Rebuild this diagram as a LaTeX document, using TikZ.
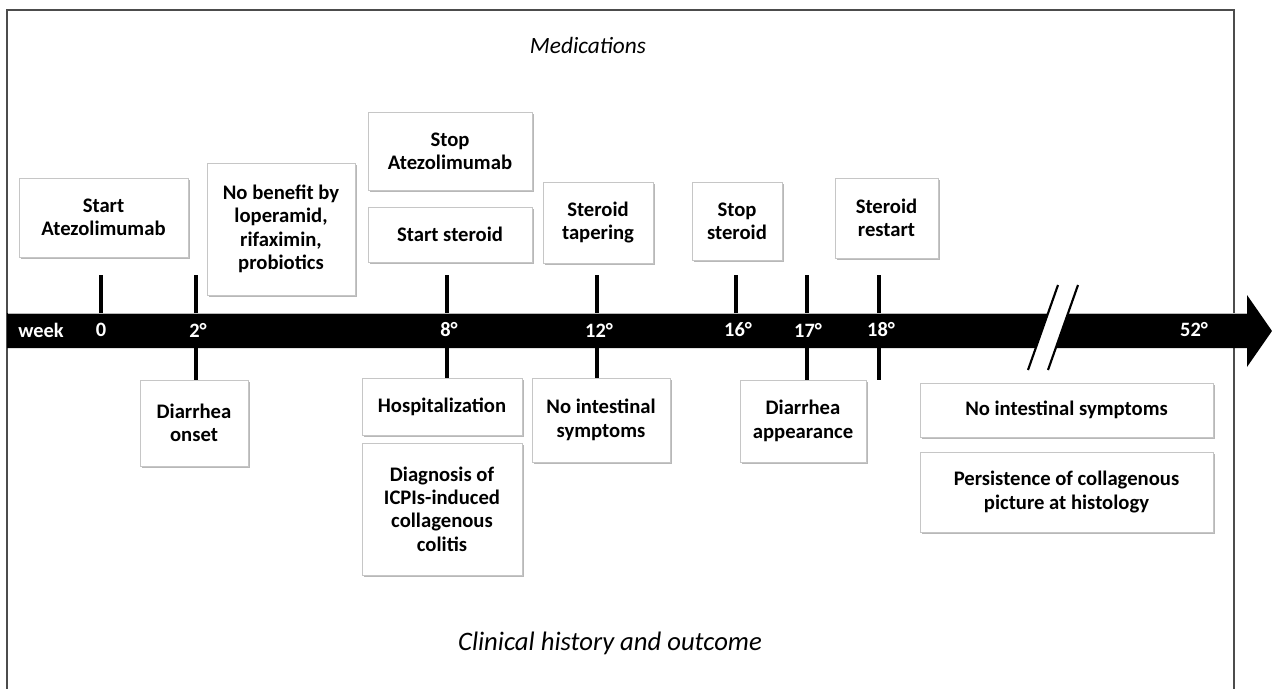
\documentclass[tikz,border=0pt]{standalone}
\usepackage{fontspec}
\setmainfont{Carlito}
\usetikzlibrary{shadows}
\tikzset{
  evbox/.style={draw=gray!45, line width=0.6pt, fill=white, align=center, inner sep=0pt,
    font=\fontsize{15.5}{17.5}\selectfont\bfseries,
    drop shadow={shadow xshift=1.5pt, shadow yshift=-1.8pt, fill=gray!70, opacity=0.8}},
  tick/.style={line width=3.6pt, black},
  barlbl/.style={text=white, font=\fontsize{15.3}{17}\selectfont\bfseries, inner sep=0pt},
  title/.style={font=\fontsize{17.5}{21}\selectfont\itshape},
  frame/.style={draw=black!70, line width=1.3pt},
  slash/.style={line width=1.6pt, black}
}
\newcommand{\tlbox}[6]{\node[evbox, minimum width={0.75pt*(#4-#2)}, minimum height={0.75pt*(#5-#3)}] (#1) at ({(#2+#4)/2},{(#3+#5)/2}) {#6};}
\begin{document}
\begin{tikzpicture}[x=0.75pt,y=-0.75pt]
\useasboundingbox (0,0) rectangle (1272,689);
% frame
\draw[frame] (7,689) -- (7,10) -- (1234,10) -- (1234,689);
% titles
\node[title] (med) at (588,45) {Medications};
\node[title, font=\fontsize{20}{24}\selectfont\itshape] (clin) at (610,643) {Clinical history and outcome};
% timeline bar
\fill[black] (7,313) -- (1247,313) -- (1247,295) -- (1272,331) -- (1247,367) -- (1247,348) -- (7,348) -- cycle;
\draw[gray!55, line width=0.8pt] (8,313.5) -- (1247,313.5);
% axis break
\fill[white] (1058,285) -- (1078,285) -- (1048,370) -- (1028,370) -- cycle;
\draw[slash] (1058,285) -- (1028,370);
\draw[slash] (1078,285) -- (1048,370);
% bar labels
\node[barlbl] (wk) at (41,330) {week};
\node[barlbl] (w0) at (101,330) {0};
\node[barlbl] (w2) at (198,330) {2°};
\node[barlbl] (w8) at (449,330) {8°};
\node[barlbl] (w12) at (599,330) {12°};
\node[barlbl] (w16) at (738,330) {16°};
\node[barlbl] (w17) at (808,330) {17°};
\node[barlbl] (w18) at (881,330) {18°};
\node[barlbl] (w52) at (1194,330) {52°};
% boxes above
\tlbox{sa}{19}{178}{188}{257}{Start\\Atezolimumab}
\tlbox{nb}{207}{163}{355}{295}{No benefit by\\loperamid,\\rifaximin,\\probiotics}
\tlbox{stopa}{368}{112}{532}{190}{Stop\\Atezolimumab}
\tlbox{ss}{368}{207}{532}{262}{Start steroid}
\tlbox{st}{543}{182}{653}{263}{Steroid\\tapering}
\tlbox{sst}{692}{182}{782}{260}{Stop\\steroid}
\tlbox{sr}{835}{178}{938}{258}{Steroid\\restart}
% boxes below
\tlbox{don}{140}{380}{248}{466}{Diarrhea\\onset}
\tlbox{hosp}{362}{378}{522}{435}{Hospitalization}
\tlbox{diag}{362}{443}{522}{575}{Diagnosis of\\ICPIs-induced\\collagenous\\colitis}
\tlbox{nis}{532}{378}{670}{462}{No intestinal\\symptoms}
\tlbox{dap}{740}{380}{866}{462}{Diarrhea\\appearance}
\tlbox{nisb}{920}{383}{1213}{437}{No intestinal symptoms}
\tlbox{pers}{920}{452}{1213}{532}{Persistence of collagenous\\picture at histology}
% ticks
\coordinate (t0a) at (101,275); \coordinate (t0b) at (101,313);
\coordinate (t2a) at (196,275); \coordinate (t2b) at (196,313);
\coordinate (t8a) at (447,275); \coordinate (t8b) at (447,313);
\coordinate (t12a) at (597,275); \coordinate (t12b) at (597,313);
\coordinate (t16a) at (736,275); \coordinate (t16b) at (736,313);
\coordinate (t17a) at (807,275); \coordinate (t17b) at (807,313);
\coordinate (t18a) at (879,275); \coordinate (t18b) at (879,313);
\draw[tick] (t0a) -- (t0b);
\draw[tick] (t2a) -- (t2b);
\draw[tick] (t8a) -- (t8b);
\draw[tick] (t12a) -- (t12b);
\draw[tick] (t16a) -- (t16b);
\draw[tick] (t17a) -- (t17b);
\draw[tick] (t18a) -- (t18b);
\coordinate (b2) at (196,348); \coordinate (b8) at (447,348);
\coordinate (b12) at (597,348); \coordinate (b17) at (807,348);
\coordinate (b18a) at (879,348); \coordinate (b18b) at (879,380);
\draw[tick] (b2) -- (b2 |- don.north);
\draw[tick] (b8) -- (b8 |- hosp.north);
\draw[tick] (b12) -- (b12 |- nis.north);
\draw[tick] (b17) -- (b17 |- dap.north);
\draw[tick] (b18a) -- (b18b);
\end{tikzpicture}
\end{document}
